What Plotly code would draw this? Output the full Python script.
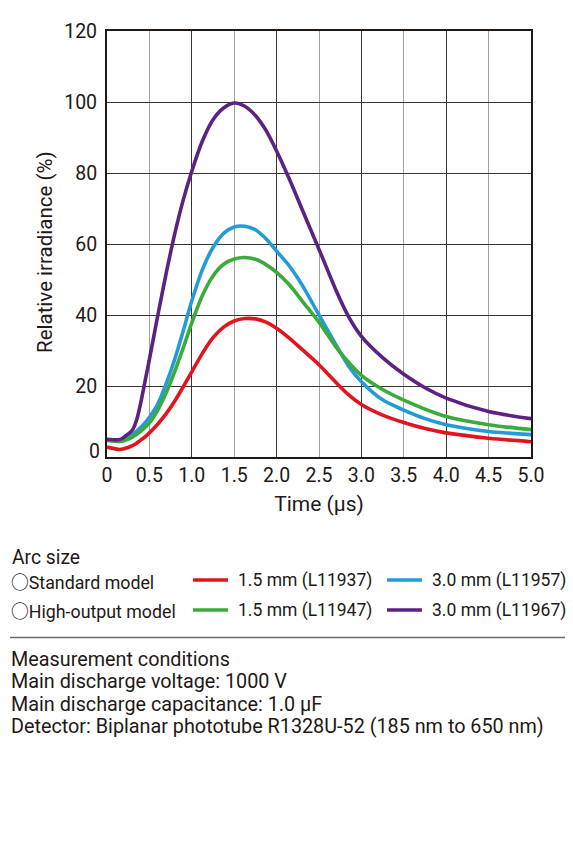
import plotly.graph_objects as go

# time axis (microseconds) and relative irradiance (%)
time_us = [0, 0.15, 0.2, 0.3, 0.35, 0.4, 0.45, 0.5, 0.6, 0.7, 0.8, 0.9, 1.0,
           1.125, 1.25, 1.375, 1.5, 1.625, 1.75, 1.875, 2.0, 2.15, 2.3, 2.5,
           2.7, 2.85, 3.0, 3.25, 3.5, 3.75, 4.0, 4.5, 5.0]

l11937 = [2.8, 2.1, 2.3, 3.2, 3.9, 4.8, 5.7, 6.8, 9.3, 12.3, 15.8, 19.8, 24.0,
          29.2, 33.6, 36.6, 38.3, 39.0, 38.9, 38.0, 36.3, 33.5, 30.3, 26.0,
          21.0, 17.5, 14.8, 11.8, 9.7, 8.0, 6.8, 5.3, 4.3]
l11957 = [4.9, 4.7, 5.0, 6.3, 7.3, 8.4, 9.7, 11.2, 15.0, 20.8, 27.6, 35.6, 44.0,
          52.8, 59.0, 63.0, 64.8, 65.0, 64.0, 61.5, 58.0, 53.8, 48.5, 40.0,
          31.6, 25.6, 21.2, 16.1, 13.2, 10.8, 9.1, 7.2, 6.3]
l11947 = [4.7, 4.4, 4.6, 5.6, 6.4, 7.3, 8.4, 9.6, 13.3, 18.2, 24.2, 30.8, 37.8,
          45.5, 51.0, 54.3, 55.8, 56.2, 55.7, 54.2, 52.0, 48.5, 44.0, 38.0,
          31.0, 26.6, 23.0, 19.0, 16.0, 13.5, 11.4, 9.1, 7.7]
l11967 = [5.0, 4.9, 5.6, 7.6, 10.5, 15.5, 21.5, 27.5, 40.0, 52.0, 63.0, 72.5, 80.5,
          89.0, 95.0, 98.3, 99.7, 98.8, 96.2, 92.0, 86.2, 78.3, 69.8, 58.5,
          47.0, 39.5, 34.0, 28.0, 23.3, 19.5, 16.6, 12.8, 10.8]

series = [
    ("1.5 mm (L11937)", l11937, "#e2141f"),
    ("3.0 mm (L11957)", l11957, "#239bd7"),
    ("1.5 mm (L11947)", l11947, "#3aab39"),
    ("3.0 mm (L11967)", l11967, "#5b2183"),
]

x_ticks = [0, 0.5, 1.0, 1.5, 2.0, 2.5, 3.0, 3.5, 4.0, 4.5, 5.0]
x_ticktext = ["0", "0.5", "1.0", "1.5", "2.0", "2.5", "3.0", "3.5", "4.0", "4.5", "5.0"]
y_ticks = [0, 20, 40, 60, 80, 100, 120]

conditions = [
    "Measurement conditions",
    "Main discharge voltage: 1000 V",
    "Main discharge capacitance: 1.0 μF",
    "Detector: Biplanar phototube R1328U-52 (185 nm to 650 nm)",
]

INK = "#231815"
FONT = "Roboto"
CIRCLE = '<span style="font-family:Noto Sans CJK JP">○</span>'
W, H = 573, 842
L, R, T, B = 107, 42, 31, 385
PW, PH = W - L - R, H - T - B


def px(x):
    return (x - L) / PW


def py(y):
    return (H - B - y) / PH


fig = go.Figure()

for name, vals, color in series:
    fig.add_trace(go.Scatter(
        x=time_us, y=vals, name=name, mode="lines",
        line=dict(color=color, width=3.6, shape="spline", smoothing=0.8),
        showlegend=False, hoverinfo="x+y+name",
    ))

# empty trace on an overlay axis so the darker whole-microsecond grid gets drawn
fig.add_trace(go.Scatter(x=[0, 5], y=[None, None], xaxis="x2", showlegend=False, hoverinfo="skip"))

fig.update_layout(
    width=W, height=H,
    margin=dict(l=L, r=R, t=T, b=B, autoexpand=False),
    paper_bgcolor="white", plot_bgcolor="white",
    font=dict(family=FONT, size=18.5, color=INK),
    xaxis=dict(
        range=[0, 5], tickvals=x_ticks, ticktext=x_ticktext,
        tickfont=dict(size=19.5),
        showgrid=True, gridcolor="#a8a3a3", gridwidth=1.2,
        showline=True, linecolor=INK, linewidth=2, mirror=True,
        ticks="", zeroline=False,
        title=dict(text="Time (μs)", font=dict(size=21), standoff=10),
    ),
    xaxis2=dict(
        overlaying="x", matches="x", range=[0, 5], dtick=1, tick0=0,
        showgrid=True, gridcolor="#3d3535", gridwidth=1.2,
        showticklabels=False, showline=False, ticks="", zeroline=False,
    ),
    yaxis=dict(
        range=[0, 120], tickvals=y_ticks,
        ticktext=[""] + [str(v) for v in y_ticks[1:]],
        tickfont=dict(size=19.5),
        showgrid=True, gridcolor="#3d3535", gridwidth=1.2,
        showline=True, linecolor=INK, linewidth=2, mirror=True,
        ticks="", zeroline=False, ticklabelstandoff=4,
    ),
)

annotations = [
    # y title placed by hand: it sits a bit below the plot centre in the original
    dict(x=px(45), y=py(252), text="Relative irradiance (%)", textangle=-90,
         xanchor="center", yanchor="middle", font=dict(size=20.5)),
    # the "0" on the y axis sits a little above the corner in the original
    dict(x=px(102), y=py(451), text="0", xanchor="right", yanchor="middle",
         font=dict(size=19.5)),
    dict(x=px(10), y=py(557), text="Arc size", xanchor="left", yanchor="middle",
         font=dict(size=19.3)),
    dict(x=px(9), y=py(581), text=CIRCLE + "Standard model", xanchor="left",
         yanchor="middle", font=dict(size=17.8)),
    dict(x=px(9), y=py(610), text=CIRCLE + "High-output model", xanchor="left",
         yanchor="middle", font=dict(size=17.8)),
]

shapes = []
legend_cols = [(193, 228, 236), (387, 422, 430)]
legend_rows = [580, 610]
for i, (name, _, color) in enumerate(series):
    x0, x1, xt = legend_cols[i % 2]
    yy = legend_rows[i // 2]
    shapes.append(dict(type="line", xref="paper", yref="paper",
                       x0=px(x0), x1=px(x1), y0=py(yy), y1=py(yy),
                       line=dict(color=color, width=3.5)))
    annotations.append(dict(x=px(xt), y=py(yy), text=name, xanchor="left",
                            yanchor="middle", font=dict(size=17.5)))

shapes.append(dict(type="line", xref="paper", yref="paper",
                   x0=px(10), x1=px(565), y0=py(637.5), y1=py(637.5),
                   line=dict(color="#6e6868", width=1.5)))

for i, line in enumerate(conditions):
    annotations.append(dict(x=px(9), y=py(659 + i * 22.5), text=line,
                            xanchor="left", yanchor="middle", font=dict(size=19.8)))

for a in annotations:
    a.setdefault("xref", "paper")
    a.setdefault("yref", "paper")
    a.setdefault("showarrow", False)

fig.update_layout(annotations=annotations, shapes=shapes)

# drop the default page margin so the figure sits at the window origin
fig.write_html("out.html", config={"displayModeBar": False},
               post_script="document.body.style.margin = '0';")
